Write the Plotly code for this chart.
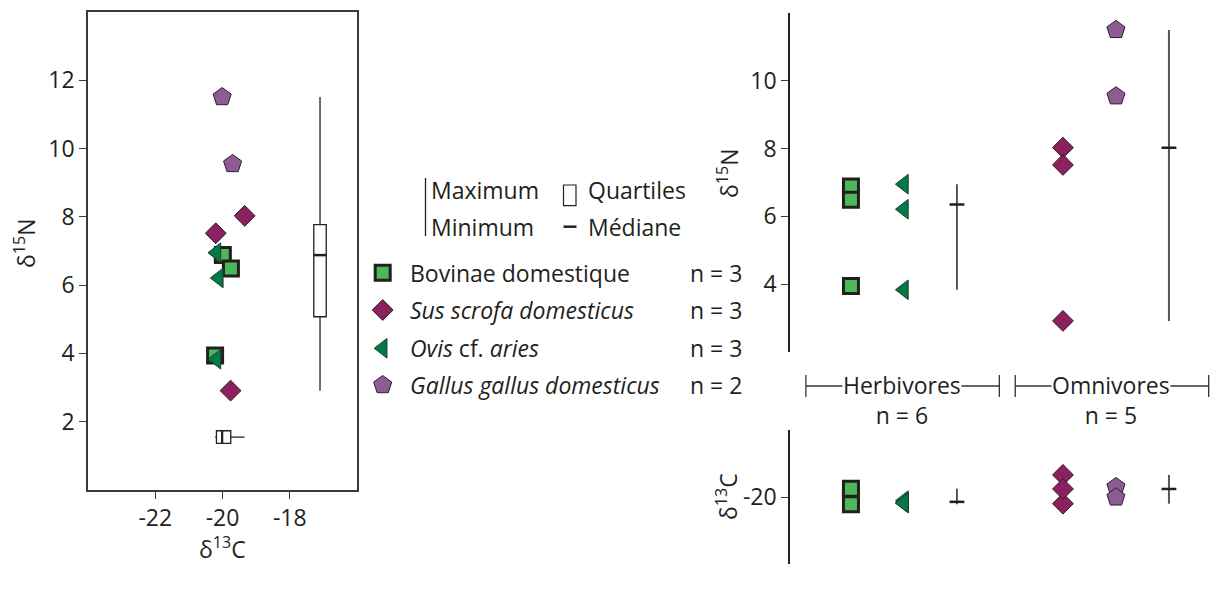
import numpy as np
import plotly.graph_objects as go

# ---------------- data ----------------
legend_labels = ["Bovinae domestique", "<i>Sus scrofa domesticus</i>",
                 "<i>Ovis</i> cf. <i>aries</i>", "<i>Gallus gallus domesticus</i>"]
n_labels = ["n = 3", "n = 3", "n = 3", "n = 2"]

bov_c = [-19.99, -19.75, -20.22]
bov_n = [6.88, 6.49, 3.94]
ovis_c = [-20.18, -20.11, -20.18]
ovis_n = [6.95, 6.21, 3.83]
sus_c = [-19.34, -20.20, -19.76]
sus_n = [8.03, 7.52, 2.91]
gal_c = [-19.70, -20.01]
gal_n = [9.55, 11.51]

groups = ["Herbivores", "Omnivores"]
group_n = ["n = 6", "n = 5"]

left_xticks = [-22, -20, -18]
left_xlabels = ["-22", "-20", "-18"]
left_yticks = [2, 4, 6, 8, 10, 12]
right_n_ticks = [4, 6, 8, 10]
right_c_ticks = [-20]
right_c_labels = ["-20"]

# ---------------- styles / layout helpers ----------------
W, H = 1211, 596
FONT = "'Open Sans', 'Noto Sans', sans-serif"
FS = 23
TXT = "#231F20"
AX = "#3a3a3a"

sty = {
    "bov": dict(symbol="square", size=15, color="#4DB85A", line=dict(color="#231F20", width=3)),
    "ovis": dict(symbol="triangle-left", size=17, color="#007A47", line=dict(color="#1f3a2a", width=1)),
    "sus": dict(symbol="diamond", size=16, color="#8C2160", line=dict(color="#2a1a22", width=1)),
    "gal": dict(symbol="pentagon", size=19, color="#8E5B92", line=dict(color="#2a2030", width=1)),
}
species = [("bov", bov_c, bov_n), ("ovis", ovis_c, ovis_n), ("sus", sus_c, sus_n), ("gal", gal_c, gal_n)]
rpos = {"bov": 1, "ovis": 2, "herb": 3, "sus": 5, "gal": 6, "omni": 7}


def px(x):
    return x / W


def py(y):
    return 1 - y / H


fig = go.Figure()

# ---------- left panel ----------
for key, c, n in species:
    fig.add_trace(go.Scatter(x=c, y=n, mode="markers", marker=sty[key],
                             xaxis="x", yaxis="y", showlegend=False))

all_c = bov_c + ovis_c + sus_c + gal_c
all_n = bov_n + ovis_n + sus_n + gal_n

fig.add_trace(go.Box(y=all_n, x0=-17.1, width=0.37, boxpoints=False, whiskerwidth=0,
                     quartilemethod="inclusive", fillcolor="white",
                     line=dict(color="#231F20", width=1.3),
                     xaxis="x", yaxis="y", showlegend=False))
fig.add_trace(go.Box(x=all_c, y0=1.55, width=0.37, orientation="h", boxpoints=False,
                     whiskerwidth=0, quartilemethod="inclusive", fillcolor="white",
                     line=dict(color="#231F20", width=1.3),
                     xaxis="x", yaxis="y", showlegend=False))
med_n = float(np.median(all_n))
fig.add_trace(go.Scatter(x=[-17.1 - 0.185, -17.1 + 0.185], y=[med_n, med_n], mode="lines",
                         line=dict(color="#231F20", width=2.5), xaxis="x", yaxis="y",
                         showlegend=False))
med_c = float(np.median(all_c))
fig.add_trace(go.Scatter(x=[med_c, med_c], y=[1.55 - 0.185, 1.55 + 0.185], mode="lines",
                         line=dict(color="#231F20", width=2.2), xaxis="x", yaxis="y",
                         showlegend=False))

# ---------- right panels ----------
herb_n = bov_n + ovis_n
herb_c = bov_c + ovis_c
omni_n = sus_n + gal_n
omni_c = sus_c + gal_c

for ya, idx in (("y2", 2), ("y3", 3)):
    xa = "x2" if idx == 2 else "x3"
    for key, c, n in species:
        vals = n if idx == 2 else c
        fig.add_trace(go.Scatter(x=[rpos[key]] * len(vals), y=vals, mode="markers",
                                 marker=sty[key], xaxis=xa, yaxis=ya, showlegend=False))
    for gkey, vals, col, lw in (("herb", herb_n if idx == 2 else herb_c, "#231F20", 1.5),
                                 ("omni", omni_n if idx == 2 else omni_c, "#555555", 2)):
        xp = rpos[gkey]
        fig.add_trace(go.Scatter(x=[xp, xp], y=[min(vals), max(vals)], mode="lines",
                                 line=dict(color=col, width=lw), xaxis=xa, yaxis=ya,
                                 showlegend=False))
        m = float(np.median(vals))
        fig.add_trace(go.Scatter(x=[xp - 0.14, xp + 0.14], y=[m, m], mode="lines",
                                 line=dict(color="#231F20", width=2.5), xaxis=xa, yaxis=ya,
                                 showlegend=False))

# ---------- legend (pixel axes) ----------
leg_y = [272.7, 310, 348.3, 385]
leg_keys = ["bov", "sus", "ovis", "gal"]
for key, yy in zip(leg_keys, leg_y):
    fig.add_trace(go.Scatter(x=[382.7], y=[yy], mode="markers", marker=sty[key],
                             xaxis="x4", yaxis="y4", showlegend=False))

annotations = []
for yy, lab, nl in zip(leg_y, legend_labels, n_labels):
    annotations.append(dict(x=408, y=yy, xref="x4", yref="y4", text=lab, showarrow=False,
                            xanchor="left", yanchor="middle", font=dict(size=FS)))
    annotations.append(dict(x=688, y=yy, xref="x4", yref="y4", text=nl, showarrow=False,
                            xanchor="left", yanchor="middle", font=dict(size=FS)))

for txt, xx, yy in (("Maximum", 429, 190), ("Minimum", 429, 226.7),
                    ("Quartiles", 586, 190), ("Médiane", 586, 226.7)):
    annotations.append(dict(x=xx, y=yy, xref="x4", yref="y4", text=txt, showarrow=False,
                            xanchor="left", yanchor="middle", font=dict(size=FS)))

# axis titles
annotations += [
    dict(x=25, y=243, xref="x4", yref="y4", text="δ<sup>15</sup>N", textangle=-90,
         showarrow=False, font=dict(size=FS)),
    dict(x=222, y=548, xref="x4", yref="y4", text="δ<sup>13</sup>C",
         showarrow=False, font=dict(size=FS)),
    dict(x=728, y=173, xref="x4", yref="y4", text="δ<sup>15</sup>N", textangle=-90,
         showarrow=False, font=dict(size=FS)),
    dict(x=727, y=497, xref="x4", yref="y4", text="δ<sup>13</sup>C", textangle=-90,
         showarrow=False, font=dict(size=FS)),
]

# group brackets
brackets = [(0.15, 3.8, 1.97), (4.1, 7.75, 5.9)]
shapes = []
for (x0, x1, xc), g, gn in zip(brackets, groups, group_n):
    shapes.append(dict(type="line", xref="x2", yref="y4", x0=x0, x1=x1, y0=386, y1=386,
                       line=dict(color="#333333", width=1.3)))
    for xe in (x0, x1):
        shapes.append(dict(type="line", xref="x2", yref="y4", x0=xe, x1=xe, y0=375, y1=397,
                           line=dict(color="#333333", width=1.3)))
    annotations.append(dict(x=xc, y=400, xref="x2", yref="y4", text=g + "<br>" + gn,
                            showarrow=False, bgcolor="white", borderpad=0,
                            yanchor="middle", font=dict(size=FS)))

# legend icons
shapes += [
    dict(type="line", xref="x4", yref="y4", x0=425.5, x1=425.5, y0=178, y1=236,
         line=dict(color="#231F20", width=1.3)),
    dict(type="rect", xref="x4", yref="y4", x0=563.5, x1=576, y0=185, y1=205.7,
         line=dict(color="#231F20", width=1.2), fillcolor="white"),
    dict(type="line", xref="x4", yref="y4", x0=563.5, x1=576.5, y0=226.7, y1=226.7,
         line=dict(color="#231F20", width=2.5)),
]

rx0 = -0.15
rx1 = rx0 + (W - 790) / 53.0

fig.update_layout(
    width=W, height=H,
    margin=dict(l=0, r=0, t=0, b=0),
    paper_bgcolor="white", plot_bgcolor="rgba(0,0,0,0)",
    font=dict(family=FONT, color=TXT, size=FS),
    showlegend=False,
    annotations=annotations,
    shapes=shapes,
    xaxis=dict(domain=[px(88), px(357)], range=[-24, -16], type="linear",
               tickvals=left_xticks, ticktext=left_xlabels, ticks="outside", ticklen=7,
               tickcolor=AX, showline=True, linecolor=AX, linewidth=1.5, mirror=True,
               showgrid=False, zeroline=False, tickfont=dict(size=FS),
               anchor="y"),
    yaxis=dict(domain=[py(490), py(12)], range=[0, 14], type="linear",
               tickvals=left_yticks, ticks="outside", ticklen=7, tickcolor=AX,
               showline=True, linecolor=AX, linewidth=1.5, mirror=True,
               showgrid=False, zeroline=False, tickfont=dict(size=FS),
               anchor="x"),
    xaxis2=dict(domain=[px(790), 1], range=[rx0, rx1], visible=False, anchor="y2"),
    yaxis2=dict(domain=[py(351.7), py(13.3)], range=[2, 12], tickvals=right_n_ticks,
                ticks="outside", ticklen=7, tickcolor=AX, showline=True, linecolor="#231F20",
                linewidth=1.5, showgrid=False, zeroline=False, tickfont=dict(size=FS),
                anchor="x2"),
    xaxis3=dict(domain=[px(790), 1], range=[rx0, rx1], visible=False, anchor="y3"),
    yaxis3=dict(domain=[py(564), py(430)], range=[-22, -18], tickvals=right_c_ticks,
                ticktext=right_c_labels,
                ticks="outside", ticklen=7, tickcolor=AX, showline=True, linecolor="#231F20",
                linewidth=1.5, showgrid=False, zeroline=False, tickfont=dict(size=FS),
                anchor="x3"),
    xaxis4=dict(domain=[0, 1], range=[0, W], visible=False, anchor="y4", fixedrange=True),
    yaxis4=dict(domain=[0, 1], range=[H, 0], visible=False, anchor="x4", fixedrange=True),
)

fig.write_html("out.html", config={"displayModeBar": False},
               post_script="document.body.style.margin='0';document.body.style.overflow='hidden';")
